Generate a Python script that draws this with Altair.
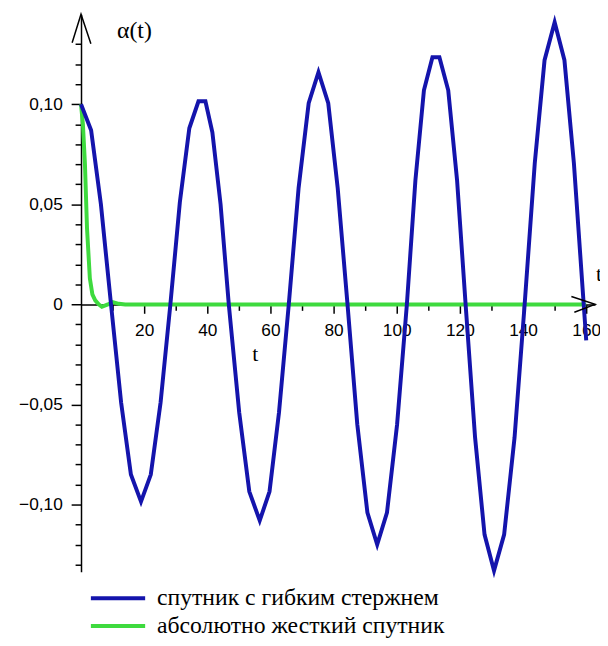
import altair as alt
import pandas as pd

# ---- data ----
blue_t = [0, 3.2, 6.3, 9.5, 12.7, 15.8, 19.0, 22.1, 25.2, 28.3, 31.3, 34.3, 37.2, 39.4,
          41.6, 44.2, 46.8, 50.1, 53.3, 56.6, 59.7, 62.7, 65.8, 68.9, 72.1, 75.2, 78.3,
          81.3, 84.4, 87.5, 90.7, 93.8, 96.9, 100.1, 103.2, 105.9, 108.6, 111.3, 113.5,
          116.3, 119.1, 121.8, 124.8, 127.8, 130.8, 134.0, 137.3, 140.5, 143.7, 146.8,
          150.0, 153.1, 156.1, 159.2, 160.0]
blue_v = [0.100, 0.087, 0.050, 0.0, -0.049, -0.085, -0.0985, -0.085, -0.049, 0.0, 0.051,
          0.088, 0.1015, 0.1015, 0.086, 0.050, 0.0, -0.054, -0.0935, -0.108, -0.0935,
          -0.054, 0.0, 0.058, 0.1005, 0.116, 0.1005, 0.058, 0.0, -0.060, -0.104, -0.120,
          -0.104, -0.060, 0.0, 0.062, 0.107, 0.1235, 0.1235, 0.107, 0.062, 0.0, -0.0665,
          -0.115, -0.133, -0.115, -0.0665, 0.0, 0.0705, 0.122, 0.141, 0.122, 0.0705, 0.0,
          -0.018]

green_t = [0, 0.6, 1.25, 1.9, 2.8, 3.6, 4.5, 5.6, 6.6, 8.5, 10.0, 12.0, 14.0, 160.0]
green_v = [0.100, 0.090, 0.070, 0.038, 0.013, 0.005, 0.002, 0.0, -0.0012, 0.0, 0.0012,
           0.0003, 0.0, 0.0]

series_names = ["спутник с гибким стержнем", "абсолютно жесткий спутник"]
series_colors = ["#1414AC", "#3EDA3E"]

x_major = [20, 40, 60, 80, 100, 120, 140, 160]
x_minor = [10, 30, 50, 70, 90, 110, 130, 150]
y_major = [-0.10, -0.05, 0.0, 0.05, 0.10]
y_minor = [-0.13, -0.12, -0.11, -0.09, -0.08, -0.07, -0.06, -0.04, -0.03, -0.02, -0.01,
           0.01, 0.02, 0.03, 0.04, 0.06, 0.07, 0.08, 0.09, 0.11, 0.12, 0.13]

x_dom = [0, 162.8]
y_dom = [-0.1335, 0.145]

# ---- frames ----
df = pd.concat([
    pd.DataFrame({"t": green_t, "v": green_v, "s": series_names[1]}),
    pd.DataFrame({"t": blue_t, "v": blue_v, "s": series_names[0]}),
], ignore_index=True)

W, H = 521, 565
y0_from_bottom = H * (0 - y_dom[0]) / (y_dom[1] - y_dom[0])

xs = alt.Scale(domain=x_dom, nice=False, zero=False)
ys = alt.Scale(domain=y_dom, nice=False, zero=False)

common = dict(grid=False, labelFlush=False, labelOverlap=False,
              domainColor="black", domainWidth=1.5, tickColor="black", tickWidth=1.5)

x_axis = alt.Axis(
    orient="bottom", values=x_major, tickSize=9, offset=-y0_from_bottom,
    labelFont="Liberation Sans", labelFontSize=17.5, labelColor="black", labelPadding=9,
    title="t", titleFont="Liberation Serif", titleFontSize=22, titleFontWeight="normal",
    titleColor="black", titleX=176, titleY=50, titleAlign="center", titleBaseline="middle",
    **common,
)
y_axis = alt.Axis(
    orient="left", values=y_major, tickSize=10,
    labelExpr="datum.value == 0 ? '0' : replace(format(datum.value, '.2f'), '.', ',')",
    labelFont="Liberation Sans", labelFontSize=17.5, labelColor="black", labelPadding=9,
    title="α(t)", titleFont="Liberation Serif", titleFontSize=24, titleFontWeight="normal",
    titleColor="black", titleAngle=0, titleX=36, titleY=17, titleAlign="left",
    titleBaseline="middle",
    **common,
)
x_axis_minor = alt.Axis(orient="bottom", values=x_minor, tickSize=6, offset=-y0_from_bottom,
                        labels=False, title=None, domain=False, grid=False,
                        tickColor="black", tickWidth=1.5)
y_axis_minor = alt.Axis(orient="left", values=y_minor, tickSize=6, labels=False,
                        title=None, domain=False, grid=False,
                        tickColor="black", tickWidth=1.5)

lines = alt.Chart(df).mark_line(strokeWidth=4).encode(
    x=alt.X("t:Q", scale=xs, axis=x_axis),
    y=alt.Y("v:Q", scale=ys, axis=y_axis),
    color=alt.Color("s:N", scale=alt.Scale(domain=series_names, range=series_colors),
                    legend=alt.Legend(orient="none", legendX=8, legendY=578, title=None,
                                      symbolType="stroke", symbolSize=3025,
                                      symbolStrokeWidth=4, clipHeight=28, rowPadding=0,
                                      labelFont="Liberation Serif", labelFontSize=24,
                                      labelColor="black", labelOffset=10, padding=0,
                                      labelLimit=400)),
)

arrow_y = pd.DataFrame({"t": [x_dom[0]], "v": [y_dom[1]]})
arrow_x = pd.DataFrame({"t": [x_dom[1]], "v": [0.0]})

minor = alt.Chart(arrow_x).mark_point(opacity=0).encode(
    x=alt.X("t:Q", scale=xs, axis=x_axis_minor),
    y=alt.Y("v:Q", scale=ys, axis=y_axis_minor),
)
ay = alt.Chart(arrow_y).mark_point(
    shape="M-9,29L0,0L10,30", size=4, filled=False, stroke="black", strokeWidth=1.5,
    opacity=1).encode(x=alt.X("t:Q", scale=xs, axis=None), y=alt.Y("v:Q", scale=ys, axis=None))
ax = alt.Chart(arrow_x).mark_point(
    shape="M-24,-8L0,0L-21,8", size=4, filled=False, stroke="black", strokeWidth=1.5,
    opacity=1).encode(x=alt.X("t:Q", scale=xs, axis=None), y=alt.Y("v:Q", scale=ys, axis=None))
tx = alt.Chart(arrow_x).mark_text(
    text="t", align="left", baseline="middle", dx=1, dy=-31, font="Liberation Serif",
    fontSize=22, color="black").encode(x=alt.X("t:Q", scale=xs, axis=None),
                                       y=alt.Y("v:Q", scale=ys, axis=None))

chart = alt.layer(minor, lines, ay, ax, tx).resolve_axis(
    x="independent", y="independent"
).properties(
    width=W, height=H,
    autosize=alt.AutoSizeParams(type="none"),
    padding={"left": 74, "top": 2, "right": 5, "bottom": 63},
).configure_view(stroke=None)

chart.save("out.html", embed_options={"renderer": "svg", "actions": False})
